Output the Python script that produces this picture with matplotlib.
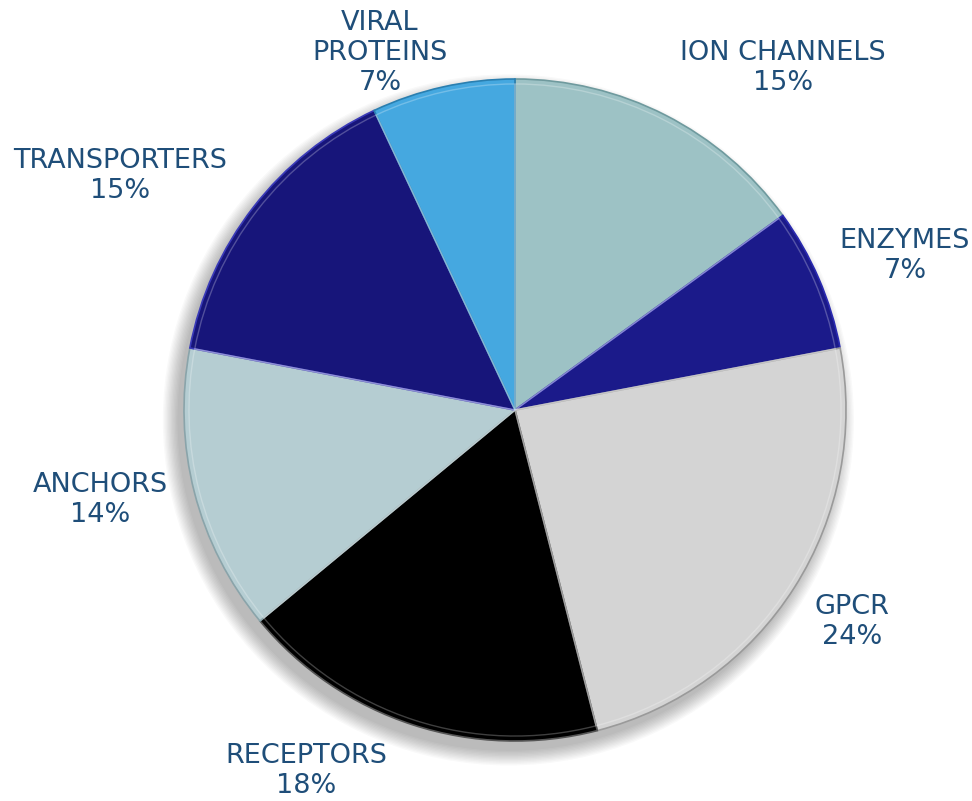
import numpy as np
import matplotlib.pyplot as plt
from matplotlib.patches import Circle

# slice data, clockwise from 12 o'clock
categories = ['ION CHANNELS', 'ENZYMES', 'GPCR', 'RECEPTORS',
              'ANCHORS', 'TRANSPORTERS', 'VIRAL\nPROTEINS']
shares = [15, 7, 24, 18, 14, 15, 7]

colors = ['#9dc2c5', '#1b1a8a', '#d4d4d4', '#000000',
          '#b5cdd2', '#17157a', '#45a8e0']
edge_colors = ['#6f9a9e', '#2a2ab0', '#9a9a9a', '#555555',
               '#8aa4aa', '#3a3ab8', '#2a7fb0']

# label centres in figure pixels (x, y from top)
label_px = [(783, 68), (905, 256), (852, 622), (306, 771),
            (100, 500), (120, 176), (380, 53)]

W, H = 972, 801
cx, cy, R = 515, 410, 331

fig = plt.figure(figsize=(W / 100, H / 100), dpi=100)
ax = fig.add_axes([0, 0, 1, 1])

# soft shadow towards lower left
for k in range(12):
    ax.add_patch(Circle((-0.02, -0.03), 1.0 + 0.004 * k, color='black',
                        alpha=0.025, lw=0, zorder=0))

wedges, _ = ax.pie(shares, startangle=90, counterclock=False, colors=colors,
                   radius=1.0, wedgeprops=dict(linewidth=1.2, zorder=2))
for w, ec in zip(wedges, edge_colors):
    w.set_edgecolor(ec)

# thin highlight just inside each wedge (bevel look)
ax.pie(shares, startangle=90, counterclock=False, radius=0.985,
       colors=['none'] * len(shares),
       wedgeprops=dict(linewidth=1.0, edgecolor=(1, 1, 1, 0.25), zorder=3))

# pie() resets the limits, so set them afterwards
ax.set_xlim(-cx / R, (W - cx) / R)
ax.set_ylim(-(H - cy) / R, cy / R)
ax.set_aspect('equal')
ax.axis('off')

for name, pct, (px, py) in zip(categories, shares, label_px):
    x = (px - cx) / R
    y = (cy - py) / R
    ax.text(x, y, f'{name}\n{pct}%', ha='center', va='center',
            fontsize=19.5, color='#1f4e79', linespacing=1.2,
            family='DejaVu Sans')

fig.savefig('out.png', dpi=100)
